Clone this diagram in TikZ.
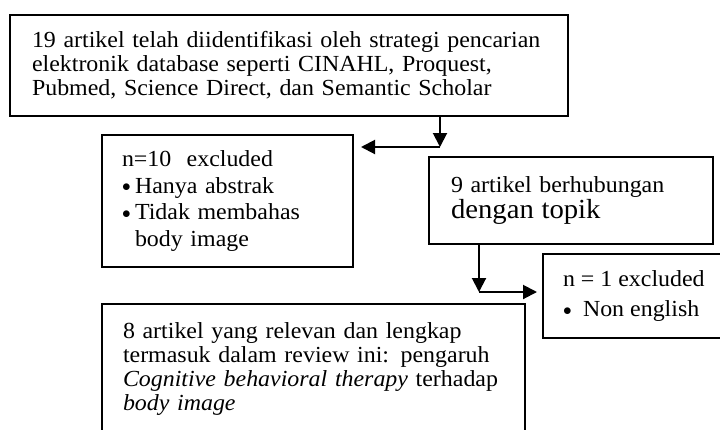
\documentclass[tikz,border=0pt]{standalone}
\usepackage{fontspec}
\setmainfont{Liberation Serif}[FakeStretch=1.04]
\usetikzlibrary{arrows.meta}
\newcommand{\bul}[1]{\makebox[#1][l]{\raisebox{1.5pt}{\fontsize{18}{18}\selectfont$\bullet$}}}

\begin{document}
\begin{tikzpicture}[x=1pt, y=-1pt,
  box/.style = {draw, line width=1.6pt, anchor=north west, outer sep=0pt, align=left, inner ysep=0pt, font=\fontsize{23}{24}\selectfont},
  arr/.style = {line width=2pt, -{Triangle[width=14pt,length=14pt]}}]
\clip (0,0) rectangle (720,429);
\node[box, text width=514pt, inner xsep=22pt, minimum height=101pt] (search) at (10,15)
  {19 artikel telah diidentifikasi oleh strategi pencarian\\ elektronik database seperti CINAHL, Proquest,\\ Pubmed, Science Direct, dan Semantic Scholar};
\node[box, text width=211pt, inner xsep=20pt, minimum height=132pt, font=\fontsize{23}{26.5}\selectfont] (excl1) at (102,135)
  {n=10\ \ excluded\\ \bul{13pt}Hanya abstrak\\ \bul{13pt}Tidak membahas\\ \hspace*{13pt}body image};
\node[box, text width=240pt, inner xsep=22pt, minimum height=87pt] (topic) at (429,157)
  {9 artikel berhubungan\\ \fontsize{27.6}{25}\selectfont dengan topik};
\node[box, inner xsep=20pt, minimum height=84pt, font=\fontsize{23}{30}\selectfont] (excl2) at (543,254)
  {n = 1 excluded\\ \bul{20pt}Non english};
\node[box, text width=381pt, inner xsep=21pt, inner ysep=19pt] (final) at (102,304)
  {8 artikel yang relevan dan lengkap\\ termasuk dalam review ini: pengaruh\\ \textit{Cognitive behavioral therapy} terhadap\\ \textit{body image}};
\coordinate (j1) at (440,147);
\coordinate (j2) at (479,292);
\draw[arr] (search.south -| j1) -- (j1);
\draw[arr] (j1) -- ([xshift=8pt]excl1.east |- j1);
\draw[arr] (topic.south -| j2) -- (j2);
\draw[arr] (j2) -- ([xshift=-6pt]excl2.west |- j2);
\end{tikzpicture}
\end{document}
